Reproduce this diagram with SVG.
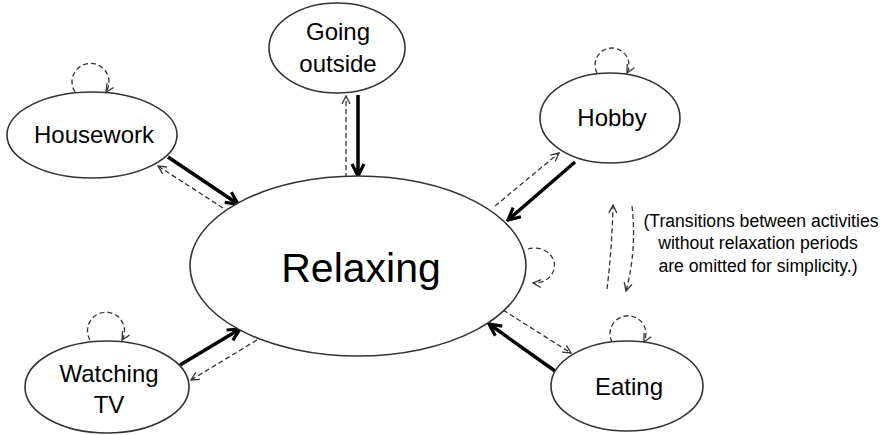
<svg xmlns="http://www.w3.org/2000/svg" width="889" height="435" viewBox="0 0 889 435">
  <style>
    .node { fill: #ffffff; stroke: #333333; stroke-width: 1.6; }
    .label { font-family: "Liberation Sans", Arial, sans-serif; font-size: 24px; fill: #000000; text-anchor: middle; }
    .big { font-size: 41px; }
    .note { font-family: "Liberation Sans", Arial, sans-serif; font-size: 17.6px; fill: #000000; text-anchor: middle; }
    .solid { fill: none; stroke: #000000; stroke-width: 3.5; marker-end: url(#headBold); }
    .dash { fill: none; stroke: #333333; stroke-width: 1.3; stroke-dasharray: 5 3; marker-end: url(#headThin); }
  </style>
  <defs>
    <marker id="headBold" viewBox="0 0 16 16" refX="14" refY="8" markerWidth="16" markerHeight="16" markerUnits="userSpaceOnUse" orient="auto">
      <path d="M2,2 L14,8 L2,14" fill="none" stroke="#000000" stroke-width="3.2" stroke-linejoin="miter"/>
    </marker>
    <marker id="headThin" viewBox="0 0 10 10" refX="9" refY="5" markerWidth="10" markerHeight="10" markerUnits="userSpaceOnUse" orient="auto">
      <path d="M1,1 L9,5 L1,9" fill="none" stroke="#333333" stroke-width="1.3"/>
    </marker>
  </defs>

  <rect width="889" height="435" fill="#ffffff"/>

  <g id="connectors">
    <!-- Housework <-> Relaxing -->
    <line class="solid" x1="168" y1="157" x2="238" y2="204"/>
    <line class="dash" x1="223" y1="208" x2="158" y2="166"/>
    <!-- Going outside <-> Relaxing -->
    <line class="solid" x1="358" y1="95" x2="358" y2="176"/>
    <line class="dash" x1="346" y1="178" x2="346" y2="96"/>
    <!-- Hobby <-> Relaxing -->
    <line class="solid" x1="575" y1="162" x2="508" y2="220"/>
    <line class="dash" x1="495" y1="206" x2="559" y2="153"/>
    <!-- Eating <-> Relaxing -->
    <line class="solid" x1="555" y1="371" x2="489" y2="324"/>
    <line class="dash" x1="503" y1="310" x2="571" y2="353"/>
    <!-- Watching TV <-> Relaxing -->
    <line class="solid" x1="180" y1="365" x2="240" y2="329"/>
    <line class="dash" x1="257" y1="340" x2="191" y2="380"/>

    <!-- self transitions -->
    <path class="dash" d="M75,92 A18.5,18.5 0 1 1 106,92"/>
    <path class="dash" d="M597,73 A17,17 0 1 1 627,73"/>
    <path class="dash" d="M612,342 A18,18 0 1 1 644,342"/>
    <path class="dash" d="M90,340 A18.5,18.5 0 1 1 122,340"/>
    <path class="dash" d="M528,249 A20,17.5 0 1 1 533,283"/>

    <!-- transitions between activities -->
    <path class="dash" d="M607,289 Q612,248 613,205"/>
    <path class="dash" d="M632,206 Q637,250 626,291"/>
  </g>

  <g id="relaxing">
    <ellipse class="node" cx="358" cy="266" rx="168" ry="90"/>
    <text class="label big" x="361" y="282">Relaxing</text>
  </g>

  <g id="housework">
    <ellipse class="node" cx="92" cy="135" rx="85" ry="43"/>
    <text class="label" x="94" y="143">Housework</text>
  </g>

  <g id="going-outside">
    <ellipse class="node" cx="337" cy="48" rx="68" ry="45"/>
    <text class="label" x="338" y="40">Going</text>
    <text class="label" x="338" y="72">outside</text>
  </g>

  <g id="hobby">
    <ellipse class="node" cx="610" cy="118" rx="70" ry="45"/>
    <text class="label" x="612" y="126">Hobby</text>
  </g>

  <g id="eating">
    <ellipse class="node" cx="627" cy="386" rx="76" ry="45"/>
    <text class="label" x="629" y="395">Eating</text>
  </g>

  <g id="watching-tv">
    <ellipse class="node" cx="107" cy="387" rx="82" ry="46"/>
    <text class="label" x="109" y="382">Watching</text>
    <text class="label" x="109" y="413">TV</text>
  </g>

  <g id="note">
    <text class="note" x="761" y="227">(Transitions between activities</text>
    <text class="note" x="758" y="249">without relaxation periods</text>
    <text class="note" x="758" y="272">are omitted for simplicity.)</text>
  </g>
</svg>
